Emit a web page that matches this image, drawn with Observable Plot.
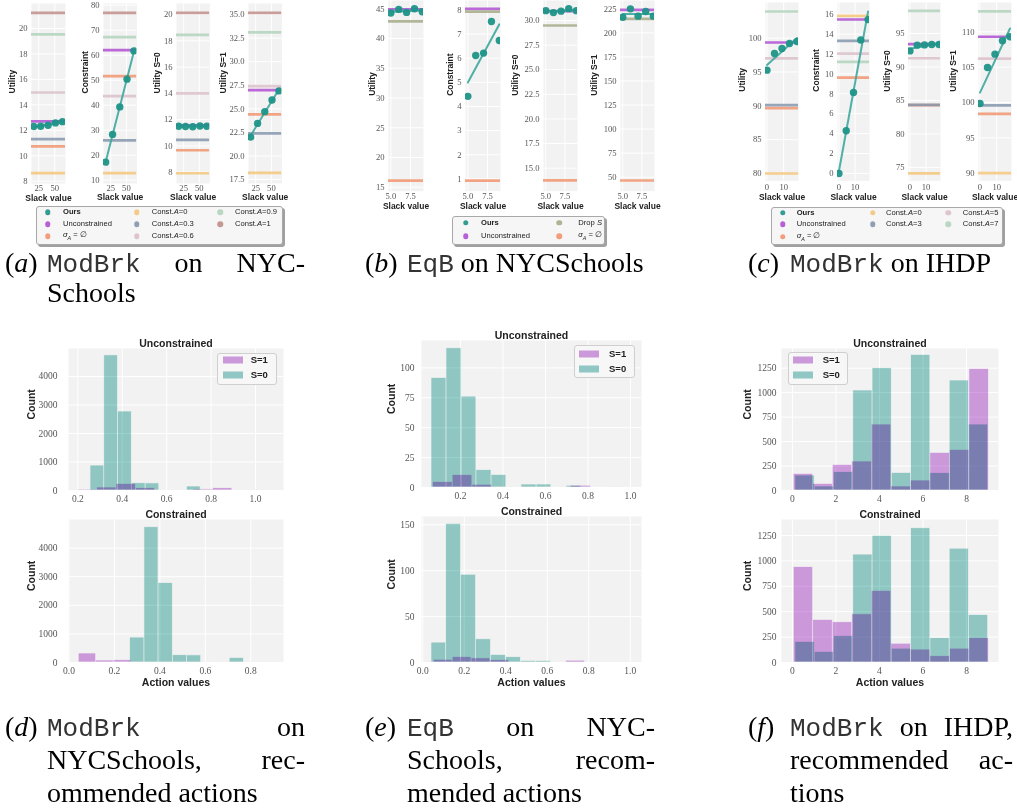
<!DOCTYPE html>
<html><head><meta charset="utf-8">
<script src="https://cdn.jsdelivr.net/npm/d3@7"></script>
<script src="https://cdn.jsdelivr.net/npm/@observablehq/plot@0.6"></script>
<style>
html,body{margin:0;padding:0;background:#fff;}
#root{position:relative;width:1017px;height:810px;overflow:hidden;background:#fff;}
.lg{position:absolute;box-sizing:border-box;}
.lgt{position:absolute;white-space:nowrap;line-height:1;font-family:"Liberation Sans",sans-serif;color:#222;transform:translateY(-50%);}
.dot{position:absolute;border-radius:50%;transform:translate(-50%,-50%);}
.sw{position:absolute;transform:translateY(-50%);}
.cap{position:absolute;font-family:"Liberation Serif",serif;font-size:28px;line-height:28px;color:#000;white-space:nowrap;}
.mono{font-family:"Liberation Mono",monospace;font-size:26px;color:#333;}
.just{text-align:justify;text-align-last:justify;}
</style></head><body><div id="root"></div><script>
// ---------------- data: panel (a) ModBrk on NYCSchools ----------------
const slackA = [17, 28, 39.5, 51, 62];
const oursA_utility = [12.3, 12.32, 12.4, 12.58, 12.68];
const oursA_constraint = [17.2, 28.3, 39.3, 50.4, 61.7];
const oursA_utilityS0 = [11.5, 11.48, 11.46, 11.52, 11.5];
const oursA_utilityS1 = [22.0, 23.45, 24.7, 25.94, 26.9];
const baselinesA = ["Unconstrained", "σ_A = ∅", "Const.A=0", "Const.A=0.3", "Const.A=0.6", "Const.A=0.9", "Const.A=1"];
const baseA_utility = [12.70, 10.73, 8.64, 11.31, 14.97, 19.53, 21.23];
const baseA_constraint = [62.0, 51.6, 12.8, 25.9, 43.6, 67.2, 76.9];
const baseA_utilityS0 = [11.57, 9.67, 7.92, 10.46, 14.0, 18.45, 20.13];
const baseA_utilityS1 = [26.98, 24.4, 18.2, 22.4, 27.4, 33.1, 35.18];
const xTicksA = [25, 50];
const yTicksA_utility = [8, 10, 12, 14, 16, 18, 20];
const yTicksA_constraint = [10, 20, 30, 40, 50, 60, 70, 80];
const yTicksA_utilityS0 = [8, 10, 12, 14, 16, 18, 20];
const yTicksA_utilityS1 = [17.5, 20, 22.5, 25, 27.5, 30, 32.5, 35];

// ---------------- data: panel (b) EqB on NYCSchools ----------------
const slackB = [5, 6, 7, 8, 9];
const oursB_utility = [44.3, 44.9, 44.4, 45.0, 44.5];
const oursB_constraint = [4.42, 6.11, 6.21, 7.52, 6.73];
const oursB_utilityS0 = [31.0, 30.8, 30.95, 31.2, 31.0];
const oursB_utilityS1 = [216.3, 225, 217.4, 222.2, 217.4];
const baselinesB = ["Unconstrained", "Drop S", "σ_A = ∅"];
const baseB_utility = [44.9, 42.9, 16.1];
const baseB_constraint = [8.04, 7.93, 0.93];
const baseB_utilityS0 = [30.95, 29.49, 13.75];
const baseB_utilityS1 = [224, 214.6, 46.5];
const xTicksB = [5, 7.5];
const yTicksB_utility = [15, 20, 25, 30, 35, 40, 45];
const yTicksB_constraint = [1, 2, 3, 4, 5, 6, 7, 8];
const yTicksB_utilityS0 = [15, 17.5, 20, 22.5, 25, 27.5, 30];
const yTicksB_utilityS1 = [50, 75, 100, 125, 150, 175, 200, 225];

// ---------------- data: panel (c) ModBrk on IHDP ----------------
const slackC = [0, 4.5, 9, 13.5, 18];
const oursC_utility = [95.27, 97.73, 98.47, 99.21, 99.5];
const oursC_constraint = [0, 4.28, 8.13, 13.41, 15.45];
const oursC_utilityS0 = [92.4, 93.26, 93.3, 93.36, 93.36];
const oursC_utilityS1 = [99.86, 104.95, 106.84, 108.73, 109.3];
const baselinesC = ["Unconstrained", "σ_A = ∅", "Const.A=0", "Const.A=3", "Const.A=5", "Const.A=7"];
const baseC_utility = [99.36, 89.65, 80.0, 90.1, 97.0, 103.94];
const baseC_constraint = [15.46, 9.63, 15.83, 13.32, 12.04, 11.2];
const baseC_utilityS0 = [93.4, 84.3, 74.1, 84.35, 91.3, 98.38];
const baseC_utilityS1 = [109.3, 98.4, 90.0, 99.6, 106.2, 112.88];
const xTicksC = [0, 10];
const yTicksC_utility = [80, 85, 90, 95, 100];
const yTicksC_constraint = [0, 2, 4, 6, 8, 10, 12, 14, 16];
const yTicksC_utilityS0 = [75, 80, 85, 90, 95];
const yTicksC_utilityS1 = [90, 95, 100, 105, 110];

// ---------------- data: histograms (d) ----------------
const dUncS0Edges = [0.257, 0.319, 0.381, 0.443, 0.505, 0.567, 0.629, 0.691, 0.753];
const dUncS0Counts = [875, 4740, 2770, 255, 250, 0, 0, 140];
const dUncS1Edges = [0.2, 0.287, 0.374, 0.461, 0.548, 0.635, 0.722, 0.809, 0.896, 0.983, 1.07];
const dUncS1Counts = [35, 105, 230, 80, 0, 0, 40, 80, 0, 2];
const dConS0Edges = [0.269, 0.332, 0.394, 0.457, 0.519, 0.582, 0.645, 0.707, 0.770];
const dConS0Counts = [872, 4730, 2777, 255, 250, 0, 0, 160];
const dConS1Edges = [0.043, 0.12, 0.197, 0.274, 0.351, 0.428, 0.505, 0.582, 0.659, 0.736, 0.813];
const dConS1Counts = [315, 70, 80, 0, 25, 0, 0, 20, 0, 0];
// ---------------- data: histograms (e) ----------------
const eUncS0Edges = [0.0635, 0.134, 0.205, 0.275, 0.346, 0.416, 0.487, 0.558, 0.628, 0.699, 0.769];
const eUncS0Counts = [91.6, 116.4, 76, 14.5, 10.5, 0, 2.5, 2.5, 0, 1.5];
const eUncS1Edges = [0.07, 0.163, 0.256, 0.349, 0.442, 0.535, 0.628, 0.721, 0.814, 0.907, 1.0];
const eUncS1Counts = [4.6, 10.4, 2.3, 0, 0, 0, 0, 1.5, 0, 0.6];
const eConS0Edges = [0.042, 0.113, 0.185, 0.257, 0.329, 0.401, 0.473, 0.545, 0.617, 0.689, 0.76];
const eConS0Counts = [21.7, 151, 95.6, 25.3, 8.3, 5.8, 1.8, 1.8, 0, 0.8];
const eConS1Edges = [0.053, 0.144, 0.235, 0.326, 0.417, 0.508, 0.599, 0.69, 0.781, 0.872, 0.963];
const eConS1Counts = [3, 6, 4.5, 2.5, 0, 0, 0, 2, 0, 0];
// ---------------- data: histograms (f) ----------------
const fS0Edges = [0.138, 1.024, 1.91, 2.796, 3.682, 4.568, 5.454, 6.34, 7.226, 8.112, 8.998];
const fS1Edges = [0.06, 0.957, 1.854, 2.751, 3.648, 4.545, 5.442, 6.339, 7.236, 8.133, 9.03];
const fUncS0Counts = [153, 41, 187, 1022, 1250, 180, 1386, 177, 1124, 674];
const fUncS1Counts = [170, 68, 262, 296, 674, 41, 102, 385, 415, 1243];
const fConS0Counts = [203, 104, 260, 1062, 1247, 136, 1321, 240, 1120, 467];
const fConS1Counts = [939, 419, 396, 474, 705, 185, 127, 62, 136, 240];
const histLegend = ["S=1", "S=0"];

// ---------------- styles ----------------
const C = {
  ours: "#1e9488", oursLine: "#3ea79d",
  "Unconstrained": "#b04fd3", "σ_A = ∅": "#f29570", "Drop S": "#a7ac88",
  "Const.A=0": "#f4c77a", "Const.A=0.3": "#8597ad", "Const.A=3": "#8597ad",
  "Const.A=0.6": "#dcbfcb", "Const.A=5": "#dcbfcb", "Const.A=0.9": "#b2d4bd",
  "Const.A=7": "#b2d4bd", "Const.A=1": "#bf8f88"
};
const S1FILL = "#d6a0e6", S0FILL = "#98d1cd";
const BG = "#f2f2f2";
const SANS = "Liberation Sans, Arial, sans-serif";
const SERIF = "Liberation Serif, serif";
const f1 = d3.format(".1f");
const fInt = d => String(d);
const root = document.getElementById("root");

function place(svg, left, top) {
  svg.style.position = "absolute";
  svg.style.left = left + "px";
  svg.style.top = top + "px";
  svg.style.maxWidth = "none";
  svg.style.overflow = "visible";
  root.appendChild(svg);
}

function linePanel(o) {
  const mL = 44, mR = 8, mT = 8, mB = 30;
  const w = o.x1 - o.x0, h = o.y1 - o.y0;
  const pts = o.slack.map((s, i) => ({x: s, y: o.ours[i]}));
  const marks = [
    Plot.frame({fill: BG, stroke: "none"}),
    Plot.gridX(o.xTicks, {stroke: "#fff", strokeOpacity: 1, strokeWidth: 1}),
    Plot.gridY(o.yTicks, {stroke: "#fff", strokeOpacity: 1, strokeWidth: 1}),
    Plot.axisX(o.xTicks, {tickSize: 0, tickPadding: o.xPad, tickFormat: o.xFmt || fInt, label: null, fill: "#555"}),
    Plot.axisY(o.yTicks, {tickSize: 0, tickPadding: 4, tickFormat: o.yFmt || fInt, label: null, fill: "#555"})
  ];
  o.names.forEach((n, i) => marks.push(Plot.ruleY([o.values[i]], {stroke: C[n], strokeWidth: 2.7, strokeOpacity: 0.85, clip: true})));
  marks.push(Plot.linearRegressionY(pts, {x: "x", y: "y", stroke: C.oursLine, strokeWidth: 2, strokeOpacity: 0.9, ci: 0, clip: true}));
  marks.push(Plot.dot(pts, {x: "x", y: "y", r: 3.7, fill: C.ours, fillOpacity: 0.95, stroke: "none", clip: true}));
  marks.push(Plot.text([o.ylabel], {text: d => d, frameAnchor: "left", dx: -o.yOff, rotate: -90, fontFamily: SANS, fontWeight: "bold", fontSize: 8.5, fill: "#222"}));
  marks.push(Plot.text(["Slack value"], {text: d => d, frameAnchor: "bottom", dy: o.xOff, fontFamily: SANS, fontWeight: "bold", fontSize: 8.5, fill: "#222"}));
  const svg = Plot.plot({
    width: mL + w + mR, height: mT + h + mB,
    marginLeft: mL, marginRight: mR, marginTop: mT, marginBottom: mB,
    x: {domain: o.xDomain}, y: {domain: o.yDomain},
    style: {fontFamily: SERIF, fontSize: "8.6px", background: "transparent", overflow: "visible"},
    marks
  });
  place(svg, o.x0 - mL, o.y0 - mT);
}

function bins(edges, counts) {
  return counts.map((c, i) => ({x1: edges[i], x2: edges[i + 1], y1: 0, y2: c}));
}

function histPanel(o) {
  const mL = 52, mR = 8, mT = 18, mB = 34;
  const w = o.x1 - o.x0, h = o.y1 - o.y0;
  const marks = [
    Plot.frame({fill: BG, stroke: "none"}),
    Plot.gridX(o.xTicks, {stroke: "#fff", strokeOpacity: 1, strokeWidth: 1}),
    Plot.gridY(o.yTicks, {stroke: "#fff", strokeOpacity: 1, strokeWidth: 1}),
    Plot.rect(bins(o.s1Edges, o.s1Counts), {x1: "x1", x2: "x2", y1: "y1", y2: "y2", fill: S1FILL, stroke: "#fff", strokeWidth: 0.7, mixBlendMode: "multiply"}),
    Plot.rect(bins(o.s0Edges, o.s0Counts), {x1: "x1", x2: "x2", y1: "y1", y2: "y2", fill: S0FILL, stroke: "#fff", strokeWidth: 0.7, mixBlendMode: "multiply"}),
    Plot.axisX(o.xTicks, {tickSize: 0, tickPadding: 5, tickFormat: o.xFmt || fInt, label: null, fill: "#555"}),
    Plot.axisY(o.yTicks, {tickSize: 0, tickPadding: o.yPad, tickFormat: fInt, label: null, fill: "#555"}),
    Plot.text([o.title], {text: d => d, frameAnchor: "top", dy: -9, fontFamily: SANS, fontWeight: "bold", fontSize: 10.5, fill: "#222"}),
    Plot.text(["Count"], {text: d => d, frameAnchor: "left", dx: -o.yOff, rotate: -90, fontFamily: SANS, fontWeight: "bold", fontSize: 10.5, fill: "#222"})
  ];
  if (o.xlabel) marks.push(Plot.text([o.xlabel], {text: d => d, frameAnchor: "bottom", dy: 23, fontFamily: SANS, fontWeight: "bold", fontSize: 10.5, fill: "#222"}));
  const svg = Plot.plot({
    width: mL + w + mR, height: mT + h + mB,
    marginLeft: mL, marginRight: mR, marginTop: mT, marginBottom: mB,
    x: {domain: o.xDomain}, y: {domain: o.yDomain},
    style: {fontFamily: SERIF, fontSize: "9.5px", background: "transparent", overflow: "visible"},
    marks
  });
  place(svg, o.x0 - mL, o.y0 - mT);
}

// ---------------- top row ----------------
const A = {y0: 3.3, y1: 183.3, xDomain: [13.6, 66.7], xTicks: xTicksA, slack: slackA, names: baselinesA, xPad: 1, xOff: 17};
linePanel({...A, x0: 31, x1: 65, yDomain: [7.82, 21.96], yTicks: yTicksA_utility, ours: oursA_utility, values: baseA_utility, ylabel: "Utility", yOff: 19});
linePanel({...A, x0: 103.3, x1: 136.7, yDomain: [8.67, 80.67], yTicks: yTicksA_constraint, ours: oursA_constraint, values: baseA_constraint, ylabel: "Constraint", yOff: 18});
linePanel({...A, x0: 176, x1: 209.3, yDomain: [7.14, 20.84], yTicks: yTicksA_utilityS0, ours: oursA_utilityS0, values: baseA_utilityS0, ylabel: "Utility S=0", yOff: 19});
linePanel({...A, x0: 248.3, x1: 281.7, yDomain: [17.08, 36.17], yTicks: yTicksA_utilityS1, yFmt: f1, ours: oursA_utilityS1, values: baseA_utilityS1, ylabel: "Utility S=1", yOff: 25});

const B = {y0: 0, y1: 190.7, xDomain: [4.7, 9.15], xTicks: xTicksB, xFmt: f1, slack: slackB, names: baselinesB, xPad: 1.5, xOff: 17.5};
linePanel({...B, x0: 388, x1: 423, yDomain: [14.33, 46.4], yTicks: yTicksB_utility, ours: oursB_utility, values: baseB_utility, ylabel: "Utility", yOff: 16});
linePanel({...B, x0: 465, x1: 500, yDomain: [0.49, 8.39], yTicks: yTicksB_constraint, ours: oursB_constraint, values: baseB_constraint, ylabel: "Constraint", yOff: 15});
linePanel({...B, x0: 543, x1: 577, yDomain: [12.66, 32.03], yTicks: yTicksB_utilityS0, yFmt: f1, ours: oursB_utilityS0, values: baseB_utilityS0, ylabel: "Utility S=0", yOff: 28});
linePanel({...B, x0: 620, x1: 654, yDomain: [35.4, 233.7], yTicks: yTicksB_utilityS1, ours: oursB_utilityS1, values: baseB_utilityS1, ylabel: "Utility S=1", yOff: 26});

const Cc = {y0: 1.7, y1: 180, xDomain: [-0.9, 18.9], xTicks: xTicksC, slack: slackC, names: baselinesC, xPad: 3, xOff: 19};
linePanel({...Cc, x0: 765, x1: 798, yDomain: [78.92, 105.27], yTicks: yTicksC_utility, ours: oursC_utility, values: baseC_utility, ylabel: "Utility", yOff: 23});
linePanel({...Cc, x0: 837, x1: 869, yDomain: [-0.74, 17.17], yTicks: yTicksC_constraint, ours: oursC_constraint, values: baseC_constraint, ylabel: "Constraint", yOff: 21});
linePanel({...Cc, x0: 908, x1: 940, yDomain: [73.0, 99.63], yTicks: yTicksC_utilityS0, ours: oursC_utilityS0, values: baseC_utilityS0, ylabel: "Utility S=0", yOff: 21});
linePanel({...Cc, x0: 978, x1: 1011, yDomain: [88.92, 114.15], yTicks: yTicksC_utilityS1, ours: oursC_utilityS1, values: baseC_utilityS1, ylabel: "Utility S=1", yOff: 25});

// ---------------- bottom row ----------------
histPanel({x0: 68, x1: 283, y0: 348, y1: 490, xDomain: [0.158, 1.126], yDomain: [0, 4980], xTicks: [0.2, 0.4, 0.6, 0.8, 1.0], xFmt: f1, yTicks: [0, 1000, 2000, 3000, 4000], s0Edges: dUncS0Edges, s0Counts: dUncS0Counts, s1Edges: dUncS1Edges, s1Counts: dUncS1Counts, title: "Unconstrained", yPad: 11, yOff: 37});
histPanel({x0: 68, x1: 283, y0: 519, y1: 662, xDomain: [-0.002, 0.944], yDomain: [0, 5000], xTicks: [0, 0.2, 0.4, 0.6, 0.8], xFmt: f1, yTicks: [0, 1000, 2000, 3000, 4000], s0Edges: dConS0Edges, s0Counts: dConS0Counts, s1Edges: dConS1Edges, s1Counts: dConS1Counts, title: "Constrained", xlabel: "Action values", yPad: 11, yOff: 37});
histPanel({x0: 421, x1: 641, y0: 340, y1: 487, xDomain: [0.0165, 1.052], yDomain: [0, 122.9], xTicks: [0.2, 0.4, 0.6, 0.8, 1.0], xFmt: f1, yTicks: [0, 25, 50, 75, 100], s0Edges: eUncS0Edges, s0Counts: eUncS0Counts, s1Edges: eUncS1Edges, s1Counts: eUncS1Counts, title: "Unconstrained", yPad: 7, yOff: 30});
histPanel({x0: 421, x1: 641, y0: 516, y1: 662, xDomain: [-0.006, 1.054], yDomain: [0, 159], xTicks: [0, 0.2, 0.4, 0.6, 0.8, 1.0], xFmt: f1, yTicks: [0, 50, 100, 150], s0Edges: eConS0Edges, s0Counts: eConS0Counts, s1Edges: eConS1Edges, s1Counts: eConS1Counts, title: "Constrained", xlabel: "Action values", yPad: 7, yOff: 30});
histPanel({x0: 781, x1: 998, y0: 348, y1: 490, xDomain: [-0.5, 9.47], yDomain: [0, 1451], xTicks: [0, 2, 4, 6, 8], yTicks: [0, 250, 500, 750, 1000, 1250], s0Edges: fS0Edges, s0Counts: fUncS0Counts, s1Edges: fS1Edges, s1Counts: fUncS1Counts, title: "Unconstrained", yPad: 5, yOff: 34});
histPanel({x0: 781, x1: 998, y0: 519, y1: 662, xDomain: [-0.5, 9.47], yDomain: [0, 1407], xTicks: [0, 2, 4, 6, 8], yTicks: [0, 250, 500, 750, 1000, 1250], s0Edges: fS0Edges, s0Counts: fConS0Counts, s1Edges: fS1Edges, s1Counts: fConS1Counts, title: "Constrained", xlabel: "Action values", yPad: 5, yOff: 34});

// ---------------- legends ----------------
function el(cls, css, html) {
  const d = document.createElement("div");
  d.className = cls;
  Object.assign(d.style, css);
  if (html != null) d.innerHTML = html;
  root.appendChild(d);
  return d;
}
function labelHtml(n) {
  if (n === "Ours") return "<b>Ours</b>";
  if (n === "σ_A = ∅") return "<i>σ<sub style='font-size:70%'>A</sub></i> = ∅";
  if (n === "Drop S") return "Drop <i>S</i>";
  const m = n.match(/^Const\.A=(.*)$/);
  if (m) return "Const.<i>A</i>=" + m[1];
  return n;
}
function topLegend(box, cols) {
  el("lg", {left: box.x + "px", top: box.y + "px", width: box.w + "px", height: box.h + "px", background: "#f6f6f6", border: "1px solid #a8a8a8", borderRadius: "3px", boxShadow: "2px 2px 0 #a0a0a0"});
  cols.forEach(col => col.items.forEach((n, r) => {
    const y = box.rows[r];
    const color = n === "Ours" ? C.ours : C[n];
    el("dot", {left: col.dx + "px", top: y + "px", width: "5.5px", height: "5.5px", background: color, opacity: 0.9});
    const t = el("lgt", {top: y + "px", fontSize: "7.6px"}, labelHtml(n));
    if (col.right != null) { t.style.right = (1017 - col.right) + "px"; } else { t.style.left = col.tx + "px"; }
  }));
}
topLegend({x: 36, y: 206, w: 247, h: 39, rows: [212.3, 224, 236]}, [
  {dx: 47.7, tx: 63, items: ["Ours", baselinesA[0], baselinesA[1]]},
  {dx: 136.7, tx: 151.7, items: [baselinesA[2], baselinesA[3], baselinesA[4]]},
  {dx: 220, tx: 235, items: [baselinesA[5], baselinesA[6]]}
]);
topLegend({x: 452, y: 216, w: 153, h: 29, rows: [222.7, 236]}, [
  {dx: 465.7, tx: 481, items: ["Ours", baselinesB[0]]},
  {dx: 559, right: 602, items: [baselinesB[1], baselinesB[2]]}
]);
topLegend({x: 771, y: 207, w: 232, h: 38, rows: [212.7, 224.3, 236.7]}, [
  {dx: 782.7, tx: 796.7, items: ["Ours", baselinesC[0], baselinesC[1]]},
  {dx: 872.7, tx: 886, items: [baselinesC[2], baselinesC[3]]},
  {dx: 948.3, tx: 962.7, items: [baselinesC[4], baselinesC[5]]}
]);

function histLegendBox(box) {
  el("lg", {left: box.x + "px", top: box.y + "px", width: box.w + "px", height: box.h + "px", background: "#f7f7f7", border: "1px solid #cfcfcf", borderRadius: "3px"});
  const fills = ["#cb98da", "#90c6c3"];
  histLegend.forEach((n, i) => {
    el("sw", {left: box.sx + "px", top: box.rows[i] + "px", width: "20px", height: "7px", background: fills[i]});
    el("lgt", {left: box.tx + "px", top: box.rows[i] + "px", fontSize: "9.5px", fontWeight: "bold"}, n);
  });
}
histLegendBox({x: 217, y: 352.7, w: 60, h: 32.3, sx: 222.7, tx: 250.7, rows: [359.7, 375]});
histLegendBox({x: 574.3, y: 345, w: 60.7, h: 33.3, sx: 579.3, tx: 609, rows: [354, 369]});
histLegendBox({x: 787.7, y: 351.7, w: 60, h: 33.3, sx: 792.7, tx: 822.7, rows: [360, 375]});

// ---------------- captions ----------------
function cap(left, center, html, width, justify) {
  const d = el("cap" + (justify ? " just" : ""), {left: left + "px", top: (center - 14) + "px"}, html);
  if (width) d.style.width = width + "px";
}
const M = s => "<span class='mono'>" + s + "</span>";
// (a)
cap(5, 263, "(<i>a</i>)");
cap(47, 263, M("ModBrk") + " on NYC-", 258, true);
cap(47, 293, "Schools");
// (b)
cap(365, 263, "(<i>b</i>)");
cap(407, 263, M("EqB") + " on NYCSchools");
// (c)
cap(748, 263, "(<i>c</i>)");
cap(790, 263, M("ModBrk") + " on IHDP");
// (d)
cap(5, 727, "(<i>d</i>)");
cap(47, 727, M("ModBrk") + " on", 258, true);
cap(47, 760, "NYCSchools, rec-", 258, true);
cap(47, 793, "ommended actions");
// (e)
cap(365, 727, "(<i>e</i>)");
cap(407, 727, M("EqB") + " on NYC-", 248, true);
cap(407, 760, "Schools, recom-", 248, true);
cap(407, 793, "mended actions");
// (f)
cap(748, 727, "(<i>f</i>)");
cap(790, 727, M("ModBrk") + " on IHDP,", 223, true);
cap(790, 760, "recommended ac-", 223, true);
cap(790, 793, "tions");
</script></body></html>
